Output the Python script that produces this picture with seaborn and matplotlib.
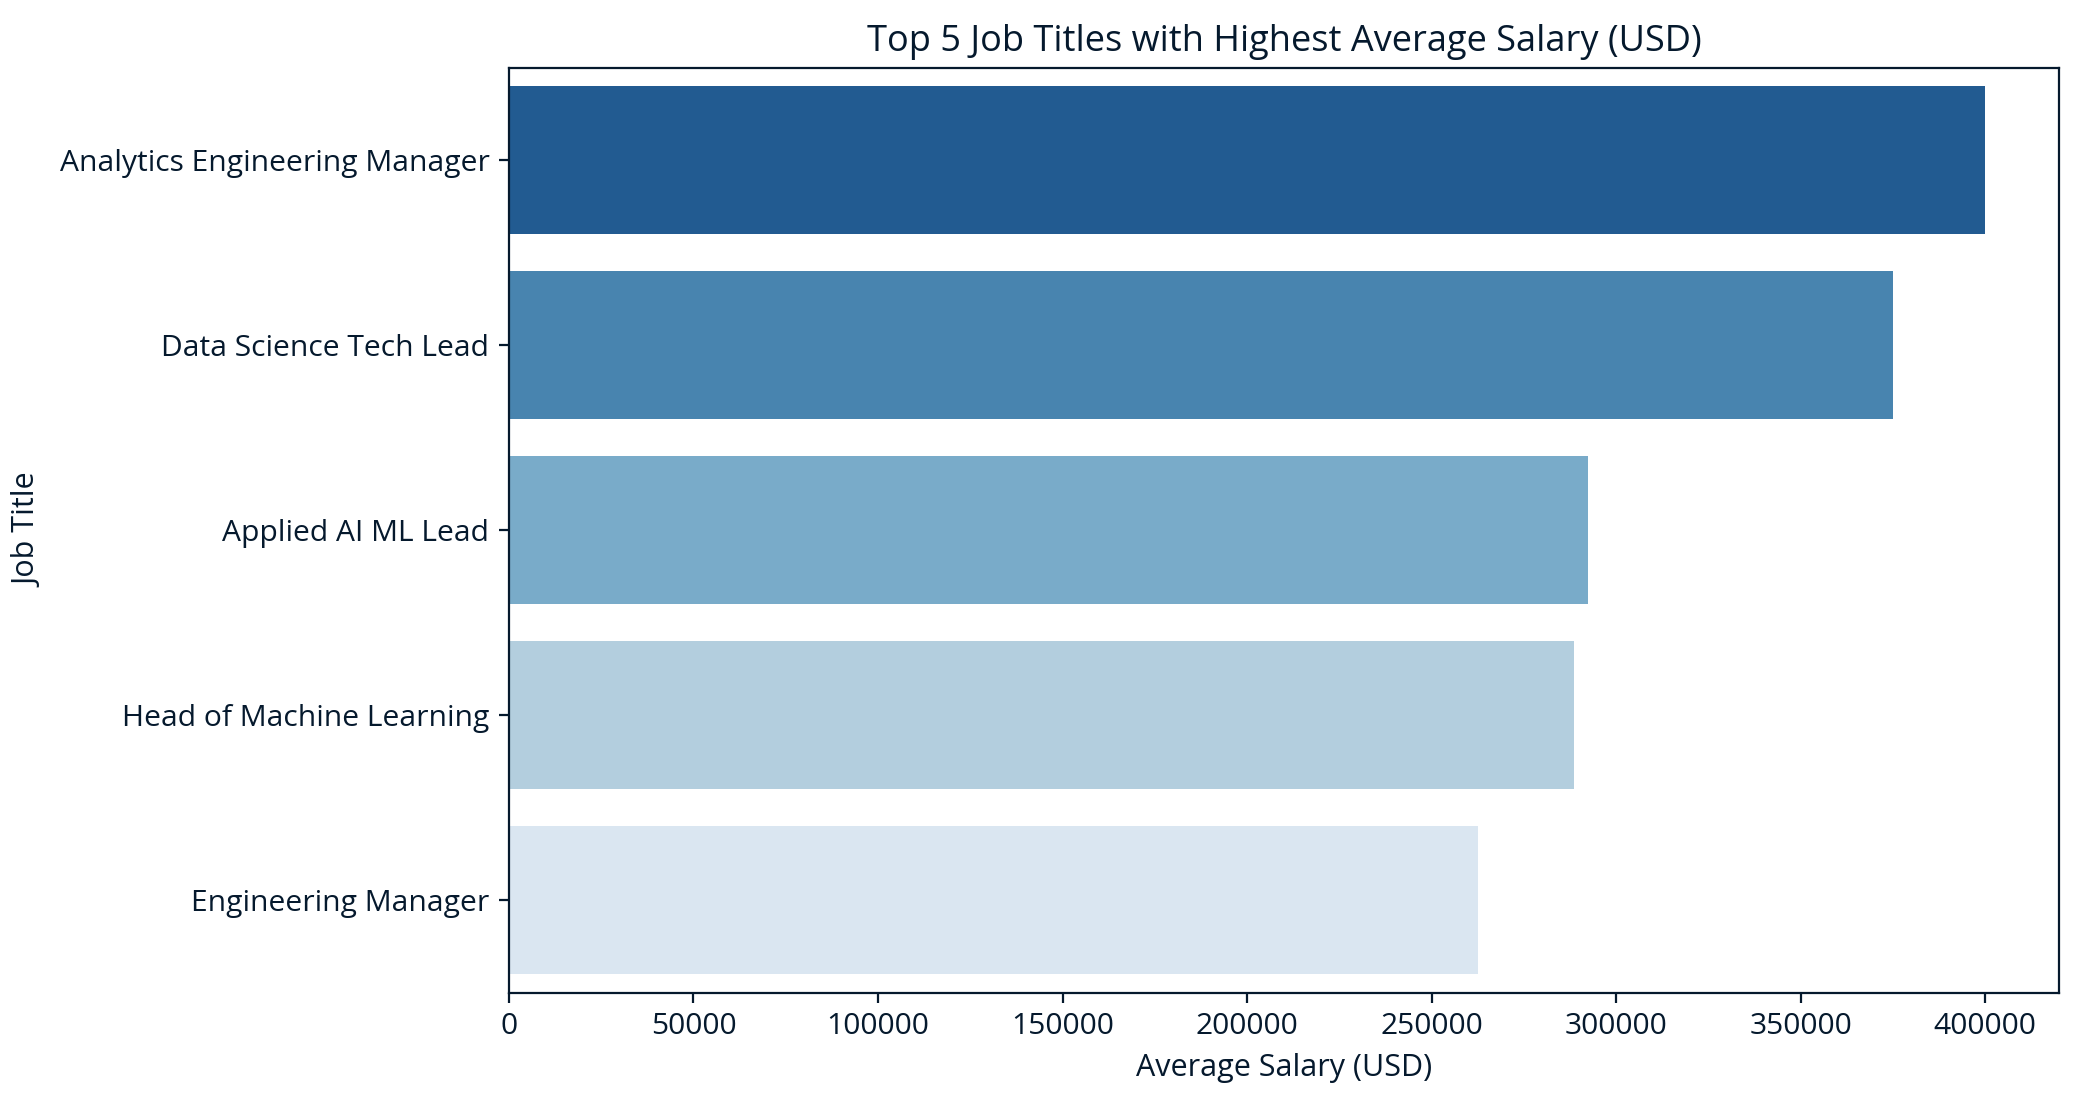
import pandas as pd
import matplotlib
matplotlib.use("Agg")
import matplotlib.pyplot as plt
import seaborn as sns

job_titles = ['Analytics Engineering Manager', 'Data Science Tech Lead',
              'Applied AI ML Lead', 'Head of Machine Learning',
              'Engineering Manager']
avg_salary = [400000, 375000, 292500, 288700, 262700]

df = pd.DataFrame({'Job Title': job_titles, 'Average Salary (USD)': avg_salary})

ink = '#05192D'
plt.rcParams['font.family'] = ['Open Sans', 'DejaVu Sans']
plt.rcParams['text.color'] = ink
plt.rcParams['axes.labelcolor'] = ink
plt.rcParams['axes.edgecolor'] = ink
plt.rcParams['xtick.color'] = ink
plt.rcParams['ytick.color'] = ink

fig, ax = plt.subplots(figsize=(2079 / 200, 1105 / 200), dpi=200)
fig.subplots_adjust(left=0.2448, right=0.9904, top=0.9385, bottom=0.1014)

sns.barplot(data=df, x='Average Salary (USD)', y='Job Title', hue='Job Title',
            palette='Blues_r', legend=False, ax=ax)

ax.set_title('Top 5 Job Titles with Highest Average Salary (USD)', fontsize=13)
ax.set_xlabel('Average Salary (USD)', fontsize=11)
ax.set_ylabel('Job Title', fontsize=11, labelpad=6)
ax.tick_params(labelsize=10.8)

fig.savefig('out.png', dpi=200)
